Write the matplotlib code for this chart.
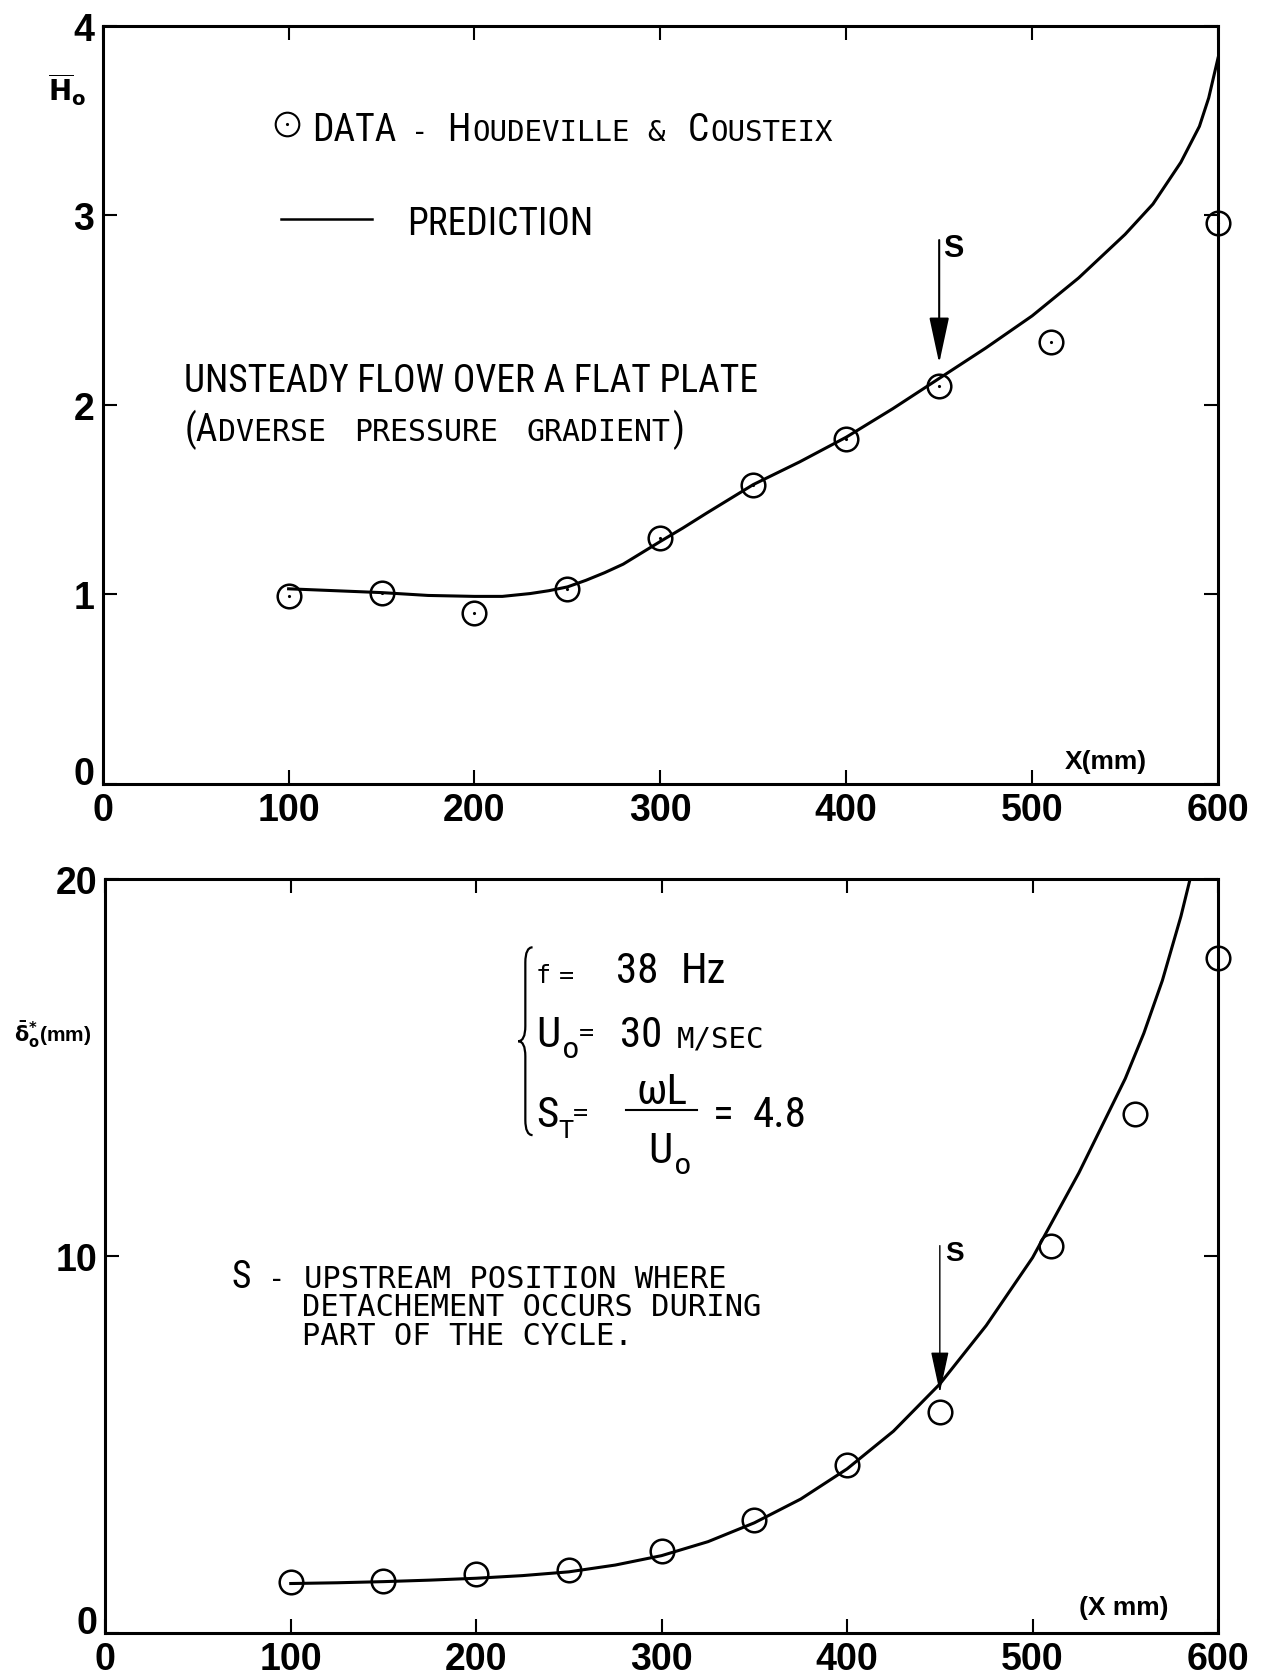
import numpy as np
import matplotlib
matplotlib.use('Agg')
import matplotlib.pyplot as plt
from matplotlib.path import Path
from matplotlib.patches import PathPatch
from matplotlib.transforms import IdentityTransform

# top panel: mean shape factor H0 vs x (mm)
x_data_h = [100, 150, 200, 250, 300, 350, 400, 450, 510, 600]
h_data = [0.99, 1.01, 0.90, 1.03, 1.30, 1.58, 1.82, 2.10, 2.33, 2.96]
x_pred_h = [100, 125, 150, 175, 200, 215, 230, 240, 250, 260, 270, 280, 290, 300,
            312, 325, 350, 375, 400, 425, 450, 475, 500, 525, 550, 565, 580,
            590, 595, 600]
h_pred = [1.03, 1.02, 1.01, 0.995, 0.99, 0.99, 1.005, 1.02, 1.04, 1.075, 1.115,
          1.16, 1.22, 1.28, 1.35, 1.43, 1.58, 1.70, 1.83, 1.98, 2.14, 2.30, 2.47,
          2.67, 2.90, 3.06, 3.28, 3.47, 3.62, 3.83]

# bottom panel: mean displacement thickness (mm) vs x (mm)
x_data_d = [100, 150, 200, 250, 300, 350, 400, 450, 510, 555, 600]
d_data = [1.34, 1.39, 1.56, 1.68, 2.16, 2.99, 4.44, 5.86, 10.27, 13.77, 17.9]
x_pred_d = [100, 125, 150, 175, 200, 225, 250, 275, 300, 325, 350, 375, 400,
            425, 450, 475, 500, 525, 540, 550, 560, 570, 580, 590]
d_pred = [1.31, 1.33, 1.36, 1.40, 1.45, 1.52, 1.62, 1.80, 2.05, 2.42, 2.92, 3.55,
          4.35, 5.35, 6.6, 8.15, 9.95, 12.2, 13.7, 14.7, 15.9, 17.3, 19.0, 21.0]

x_ticks = [0, 100, 200, 300, 400, 500, 600]
h_ticks = [0, 1, 2, 3, 4]
d_ticks = [0, 10, 20]

S_POS = 450  # upstream detachment position

N = ['Roboto Condensed', 'Archivo Narrow', 'PT Sans Narrow', 'DejaVu Sans']
M = ['DejaVu Sans Mono']
BIG = 27
SMALL = 21
PBIG = 31   # big characters of the parameter block

fig = plt.figure(figsize=(12.84, 16.81), dpi=100)
ax1 = fig.add_axes([0.080, 0.533, 0.8686, 0.451])
ax2 = fig.add_axes([0.082, 0.028, 0.8666, 0.4487])
renderer = fig.canvas.get_renderer()


def chain(ax, x, y, parts):
    # write text pieces one after another (fake small caps / subscripts)
    # part = (text, size, family, gap before in em, vertical shift in pt)
    px, py = ax.transAxes.transform((x, y))
    k = fig.dpi / 72.0
    for p in parts:
        s, size, fam = p[0], p[1], p[2]
        gap = p[3] if len(p) > 3 else 0
        dy = p[4] if len(p) > 4 else 0
        px += gap * size * k
        t = ax.text(px, py + dy * k, s, transform=IdentityTransform(),
                    fontsize=size, family=fam, ha='left', va='baseline')
        px = t.get_window_extent(renderer).x1


def style(ax, yticks, ymax):
    ax.set_xlim(0, 600)
    ax.set_ylim(0, ymax)
    ax.set_xticks(x_ticks)
    ax.set_yticks(yticks)
    for sp in ax.spines.values():
        sp.set_linewidth(2.2)
    ax.tick_params(direction='in', length=10, width=1.5, top=True, right=True,
                   labelsize=27, pad=6)
    for lab in ax.get_xticklabels() + ax.get_yticklabels():
        lab.set_family('Liberation Sans')
        lab.set_weight('bold')
    ax.get_yticklabels()[0].set_va('baseline')


# ---------------- top panel ----------------
style(ax1, h_ticks, 4)
ax1.plot(x_pred_h, h_pred, color='k', lw=2.2)
ax1.plot(x_data_h, h_data, 'o', ms=17, mfc='none', mec='k', mew=1.8,
         clip_on=False)
ax1.plot(x_data_h, h_data, '.', ms=2.5, color='k', clip_on=False)

ax1.text(-0.032, 0.917, r'$\mathbf{\overline{H}_o}$', transform=ax1.transAxes,
         fontsize=20, ha='center', va='center')
ax1.text(0.899, 0.031, 'X(mm)', transform=ax1.transAxes, fontsize=19,
         family='Liberation Sans', weight='bold', ha='center', va='center')

# legend drawn by hand
ax1.plot([0.165], [0.870], 'o', ms=17, mfc='none', mec='k', mew=1.5,
         transform=ax1.transAxes, clip_on=False)
ax1.plot([0.165], [0.870], '.', ms=2.5, color='k', transform=ax1.transAxes)
chain(ax1, 0.188, 0.850, [('DATA', BIG, N), ('-', SMALL, M, 0.5),
                          ('H', BIG, N, 0.5), ('OUDEVILLE', SMALL, M, 0.05),
                          ('&', SMALL, M, 0.6), ('C', BIG, N, 0.6),
                          ('OUSTEIX', SMALL, M, 0.05)])
ax1.plot([0.160, 0.241], [0.745, 0.745], color='k', lw=1.8,
         transform=ax1.transAxes)
chain(ax1, 0.273, 0.726, [('PREDICTION', BIG, N)])

chain(ax1, 0.073, 0.519, [('UNSTEADY FLOW OVER A FLAT PLATE', BIG, N)])
chain(ax1, 0.073, 0.454, [('(A', BIG, N), ('DVERSE', 21.5, M, 0.02),
                          ('PRESSURE', 21.5, M, 0.95), ('GRADIENT', 21.5, M, 0.95),
                          (')', BIG, N, 0.03)])

ax1.annotate('', xy=(S_POS, 2.22), xytext=(S_POS, 2.87),
             arrowprops=dict(arrowstyle='-|>,head_length=1.3,head_width=0.28',
                             color='k', lw=1.5, mutation_scale=22,
                             shrinkA=0, shrinkB=0))
ax1.text(0.7625, 0.707, 'S', transform=ax1.transAxes, fontsize=22,
         family='Liberation Sans', weight='bold', ha='center', va='center')

# ---------------- bottom panel ----------------
style(ax2, d_ticks, 20)
ax2.plot(x_pred_d, d_pred, color='k', lw=2.2)
ax2.plot(x_data_d, d_data, 'o', ms=17, mfc='none', mec='k', mew=1.8,
         clip_on=False)

ax2.text(-0.047, 0.795, r'$\mathbf{\bar{\delta}^{*}_{o}}$' + '(mm)',
         transform=ax2.transAxes, fontsize=15, family='Liberation Sans',
         weight='bold', ha='center', va='center')
ax2.text(0.915, 0.034, '(X mm)', transform=ax2.transAxes, fontsize=19,
         family='Liberation Sans', weight='bold', ha='center', va='center')

# brace
xc, xe = 0.371, 0.384
xm = (xc + xe) / 2
yt, yb = 0.909, 0.660
ym = (yt + yb) / 2
d = 0.02
verts = [(xe, yt), (xm, yt), (xm, yt - d), (xm, ym + d), (xm, ym), (xc, ym),
         (xm, ym), (xm, ym - d), (xm, yb + d), (xm, yb), (xe, yb)]
codes = [Path.MOVETO, Path.CURVE3, Path.CURVE3, Path.LINETO, Path.CURVE3,
         Path.CURVE3, Path.CURVE3, Path.CURVE3, Path.LINETO, Path.CURVE3,
         Path.CURVE3]
ax2.add_patch(PathPatch(Path(verts, codes), fill=False, lw=1.6, color='k',
                        transform=ax2.transAxes))

chain(ax2, 0.387, 0.863, [('f', SMALL - 3, M), ('=', SMALL - 3, M, 0.3),
                          ('38', PBIG, N, 1.0), ('Hz', PBIG, N, 0.5)])
chain(ax2, 0.387, 0.778, [('U', PBIG, N), ('o', SMALL, M, 0.05, -8),
                          ('=', SMALL - 3, M, 0.0, 5),
                          ('30', PBIG, N, 0.6), ('M/SEC', SMALL, M, 0.5)])
chain(ax2, 0.387, 0.672, [('S', PBIG, N), ('T', SMALL - 3, M, 0.0, -8),
                          ('=', SMALL - 3, M, 0.0, 5)])
ax2.plot([0.468, 0.532], [0.693, 0.693], color='k', lw=1.5,
         transform=ax2.transAxes)
ax2.text(0.500, 0.703, '\u03c9L', transform=ax2.transAxes, fontsize=PBIG,
         family=N, ha='center', va='baseline')
chain(ax2, 0.488, 0.624, [('U', PBIG, N), ('o', SMALL, M, 0.05, -8)])
chain(ax2, 0.546, 0.672, [('=', PBIG, N), ('4.8', PBIG, N, 0.45)])

chain(ax2, 0.113, 0.459, [('S', BIG, N), ('-', SMALL, M, 0.6),
                          ('UPSTREAM POSITION WHERE', 22, M, 0.6)])
chain(ax2, 0.177, 0.422, [('DETACHEMENT OCCURS DURING', 22, M)])
chain(ax2, 0.177, 0.383, [('PART OF THE CYCLE.', 22, M)])

ax2.annotate('', xy=(S_POS, 6.37), xytext=(S_POS, 10.27),
             arrowprops=dict(arrowstyle='-|>,head_length=1.3,head_width=0.28',
                             color='k', lw=1.0, mutation_scale=20,
                             shrinkA=0, shrinkB=0))
ax2.text(0.7635, 0.504, 'S', transform=ax2.transAxes, fontsize=20,
         family='Liberation Sans', weight='bold', ha='center', va='center')

fig.savefig('out.png', dpi=100)
